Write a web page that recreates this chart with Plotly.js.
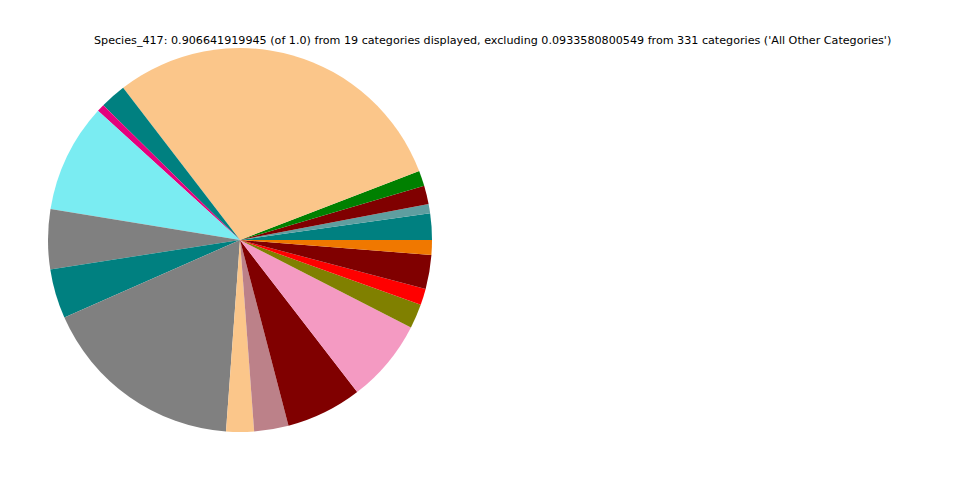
<!DOCTYPE html>
<html>
<head>
<meta charset="utf-8">
<script src="https://cdn.plot.ly/plotly-3.0.1.min.js"></script>
<style>html,body{margin:0;padding:0;background:#fff;}#chart{width:960px;height:480px;}</style>
</head>
<body>
<div id="chart"></div>
<script>
// Slice values (fractions of total), in drawing order counterclockwise from 3 o'clock
const categories = ["c1","c2","c3","c4","c5","c6","c7","c8","c9","c10","c11","c12","c13","c14","c15","c16","c17","c18","c19"];
const values = [0.0201,0.0071,0.0141,0.0118,0.2680,0.0199,0.0058,0.0831,0.0456,0.0378,0.1561,0.0212,0.0262,0.0579,0.0637,0.0185,0.0125,0.0259,0.0113];
const colors = ["#008080","#5f9ea0","#800000","#008000","#fbc68a","#008080","#e5007d","#7aecf2","#808080","#008080","#808080","#fbc68a","#bc8189","#800000","#f49ac2","#808000","#ff0000","#800000","#f07800"];
const titleText = "Species_417: 0.906641919945 (of 1.0) from 19 categories displayed, excluding 0.0933580800549 from 331 categories ('All Other Categories')";

const total = values.reduce((a, b) => a + b, 0);
// Plotly puts the END of the first slice at `rotation` when counterclockwise;
// shift so the first slice starts at 3 o'clock.
const rotation = 90 - 360 * values[0] / total;

const trace = {
  type: "pie",
  labels: categories,
  values: values,
  sort: false,
  direction: "counterclockwise",
  rotation: rotation,
  textinfo: "none",
  hoverinfo: "none",
  marker: {colors: colors, line: {width: 0}},
  domain: {x: [0.05, 0.45], y: [0.1, 0.9]}
};
const layout = {
  width: 960, height: 480,
  margin: {l: 0, r: 0, t: 0, b: 0},
  showlegend: false,
  paper_bgcolor: "#fff",
  annotations: [{
    text: titleText, xref: "paper", yref: "paper", x: 0.513, y: 0.9155,
    xanchor: "center", yanchor: "middle", showarrow: false,
    font: {family: "DejaVu Sans", size: 11.15, color: "#000"}
  }]
};
Plotly.newPlot("chart", [trace], layout, {staticPlot: true});
</script>
</body>
</html>
